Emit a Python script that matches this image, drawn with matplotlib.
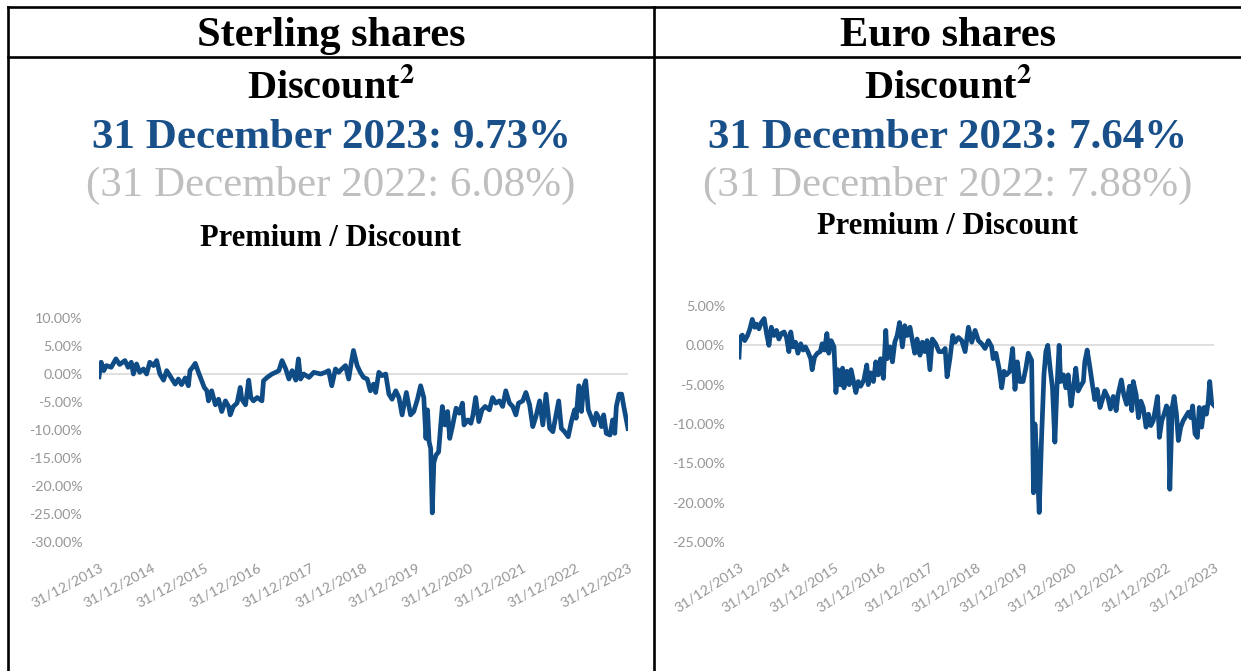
import matplotlib.pyplot as plt
from matplotlib.lines import Line2D
from matplotlib.ticker import FuncFormatter

# premium / discount (%)
sterling_years = [
    2014.00, 2014.04, 2014.09, 2014.14, 2014.23, 2014.32, 2014.39, 2014.49, 2014.55, 2014.61,
    2014.65, 2014.71, 2014.77, 2014.84, 2014.90, 2014.96, 2015.03, 2015.09, 2015.15, 2015.22,
    2015.28, 2015.34, 2015.44, 2015.50, 2015.56, 2015.63, 2015.69, 2015.72, 2015.77, 2015.82,
    2015.88, 2015.94, 2015.99, 2016.04, 2016.07, 2016.13, 2016.20, 2016.26, 2016.32, 2016.39,
    2016.45, 2016.48, 2016.54, 2016.61, 2016.67, 2016.70, 2016.77, 2016.83, 2016.87, 2016.92,
    2016.99, 2017.08, 2017.11, 2017.18, 2017.27, 2017.34, 2017.40, 2017.46, 2017.53, 2017.59,
    2017.65, 2017.72, 2017.77, 2017.81, 2017.87, 2017.97, 2018.06, 2018.19, 2018.28, 2018.34,
    2018.40, 2018.47, 2018.53, 2018.59, 2018.66, 2018.72, 2018.77, 2018.81, 2018.88, 2018.94,
    2019.00, 2019.07, 2019.13, 2019.19, 2019.23, 2019.29, 2019.35, 2019.42, 2019.48, 2019.54,
    2019.61, 2019.67, 2019.73, 2019.81, 2019.89, 2019.95, 2020.02, 2020.08, 2020.14, 2020.18,
    2020.21, 2020.24, 2020.27, 2020.30, 2020.33, 2020.37, 2020.42, 2020.46, 2020.49, 2020.54,
    2020.59, 2020.63, 2020.68, 2020.75, 2020.81, 2020.87, 2020.90, 2020.97, 2021.03, 2021.07,
    2021.12, 2021.18, 2021.24, 2021.30, 2021.38, 2021.44, 2021.50, 2021.57, 2021.63, 2021.69,
    2021.76, 2021.82, 2021.88, 2021.93, 2022.01, 2022.07, 2022.14, 2022.20, 2022.26, 2022.33,
    2022.39, 2022.45, 2022.52, 2022.58, 2022.64, 2022.69, 2022.74, 2022.80, 2022.87, 2022.93,
    2022.99, 2023.02, 2023.07, 2023.12, 2023.16, 2023.20, 2023.25, 2023.31, 2023.36, 2023.40,
    2023.47, 2023.50, 2023.54, 2023.59, 2023.66, 2023.71, 2023.75, 2023.78, 2023.83, 2023.88,
    2023.92, 2024.00,
]
sterling_discount = [
    -0.5, 2.1, 0.6, 1.5, 1.2, 2.7, 1.7, 2.4, 1.2, 2.1,
    0.0, 1.8, 0.3, 0.9, 0.0, 2.1, 1.5, 2.4, 0.0, -1.1,
    0.6, -0.3, -1.8, -0.9, -1.9, -0.7, -2.1, 0.6, 1.2, 1.9,
    0.3, -1.2, -2.4, -3.0, -4.8, -3.0, -5.5, -4.5, -6.7, -4.8,
    -5.8, -7.3, -5.8, -5.2, -2.4, -4.5, -5.5, -1.1, -4.2, -4.8,
    -4.2, -4.8, -1.2, -0.6, 0.0, 0.3, 0.6, 2.4, 0.9, -0.9,
    0.6, -1.1, 2.7, -0.9, 0.0, -0.6, 0.3, 0.0, 0.3, 0.6,
    -2.1, 0.9, 0.3, 0.9, 1.5, -0.9, 2.1, 4.2, 1.5, 0.3,
    -0.6, -0.9, -3.0, -1.8, -3.3, 0.3, -0.3, 0.0, -3.6, -4.5,
    -3.0, -4.2, -7.3, -3.3, -7.3, -6.7, -4.5, -2.1, -4.2, -11.5,
    -6.4, -12.1, -13.3, -24.8, -15.8, -14.5, -13.9, -9.1, -5.8, -9.1,
    -6.7, -11.5, -9.4, -6.1, -7.0, -5.2, -9.1, -8.2, -8.8, -7.3,
    -4.2, -8.5, -6.4, -5.8, -6.4, -4.2, -5.2, -4.8, -5.8, -3.0,
    -5.2, -5.8, -7.3, -5.2, -4.8, -3.3, -5.5, -9.4, -7.6, -4.8,
    -9.1, -3.6, -9.7, -10.3, -7.3, -4.8, -9.7, -10.3, -11.2, -8.5,
    -6.4, -7.9, -2.1, -6.7, -2.4, -1.2, -6.4, -7.9, -9.1, -7.0,
    -8.2, -9.4, -7.3, -10.6, -10.9, -8.2, -10.6, -5.8, -3.6, -3.6,
    -5.8, -9.73,
]

euro_years = [
    2014.00, 2014.02, 2014.07, 2014.12, 2014.18, 2014.23, 2014.28, 2014.33, 2014.37, 2014.42,
    2014.47, 2014.53, 2014.58, 2014.63, 2014.68, 2014.74, 2014.79, 2014.84, 2014.89, 2014.95,
    2015.00, 2015.05, 2015.09, 2015.14, 2015.19, 2015.24, 2015.30, 2015.35, 2015.40, 2015.45,
    2015.51, 2015.54, 2015.59, 2015.65, 2015.71, 2015.75, 2015.80, 2015.85, 2015.89, 2015.94,
    2016.00, 2016.04, 2016.08, 2016.13, 2016.18, 2016.21, 2016.27, 2016.32, 2016.36, 2016.42,
    2016.46, 2016.51, 2016.56, 2016.63, 2016.69, 2016.72, 2016.77, 2016.83, 2016.88, 2016.93,
    2016.98, 2017.04, 2017.09, 2017.12, 2017.18, 2017.23, 2017.28, 2017.33, 2017.38, 2017.44,
    2017.49, 2017.54, 2017.60, 2017.65, 2017.70, 2017.75, 2017.81, 2017.86, 2017.91, 2017.96,
    2018.02, 2018.07, 2018.14, 2018.21, 2018.29, 2018.34, 2018.38, 2018.44, 2018.50, 2018.55,
    2018.62, 2018.69, 2018.76, 2018.83, 2018.90, 2018.97, 2019.04, 2019.11, 2019.18, 2019.25,
    2019.32, 2019.35, 2019.41, 2019.48, 2019.53, 2019.58, 2019.63, 2019.70, 2019.76, 2019.81,
    2019.86, 2019.91, 2019.98, 2020.04, 2020.09, 2020.16, 2020.20, 2020.23, 2020.28, 2020.32,
    2020.37, 2020.42, 2020.46, 2020.50, 2020.55, 2020.60, 2020.65, 2020.69, 2020.74, 2020.77,
    2020.83, 2020.88, 2020.93, 2020.99, 2021.04, 2021.09, 2021.14, 2021.19, 2021.25, 2021.28,
    2021.33, 2021.39, 2021.44, 2021.49, 2021.54, 2021.60, 2021.65, 2021.70, 2021.77, 2021.82,
    2021.88, 2021.94, 2021.98, 2022.05, 2022.10, 2022.16, 2022.22, 2022.27, 2022.30, 2022.36,
    2022.41, 2022.46, 2022.51, 2022.57, 2022.62, 2022.67, 2022.72, 2022.76, 2022.81, 2022.85,
    2022.90, 2022.95, 2023.00, 2023.04, 2023.07, 2023.12, 2023.16, 2023.21, 2023.25, 2023.30,
    2023.35, 2023.41, 2023.46, 2023.51, 2023.55, 2023.60, 2023.65, 2023.69, 2023.74, 2023.79,
    2023.84, 2023.88, 2023.91, 2023.95, 2024.00,
]
euro_discount = [
    -1.5, 1.0, 1.3, 0.6, 1.25, 2.1, 3.3, 2.3, 2.7, 2.1,
    2.9, 3.4, 1.5, 0.0, 2.3, 1.25, 1.9, 0.8, 1.5, 1.7,
    1.0, -0.8, 1.7, -0.2, 0.4, -1.0, 0.2, -0.6, -0.2, -0.8,
    -1.7, -3.1, -1.5, -1.0, -0.8, 0.2, -0.6, 1.5, -1.0, 0.6,
    -0.2, -6.0, -3.1, -5.0, -2.9, -5.4, -3.3, -5.0, -3.1, -4.8,
    -6.0, -4.6, -5.2, -4.4, -2.5, -5.0, -3.5, -4.6, -2.1, -3.75,
    -1.7, -4.2, 1.9, -1.7, -0.2, -2.1, 0.4, 1.25, 2.9, -0.2,
    2.5, 1.25, 2.3, 0.6, -1.0, 0.8, -1.25, 0.4, -0.8, 0.6,
    -3.1, 0.8, 0.2, -0.8, -0.8, -0.4, -4.0, -1.7, 1.25, 0.4,
    1.0, 0.6, -0.8, 2.3, 0.4, 1.9, 0.6, 0.2, -0.4, 0.6,
    -0.2, -1.7, -1.0, -3.1, -5.4, -3.3, -3.75, -3.3, -0.4, -5.6,
    -2.1, -4.6, -4.6, -2.9, -1.0, -1.9, -18.75, -10.0, -15.4, -21.25,
    -11.7, -3.75, -0.8, 0.0, -2.9, -5.4, -12.3, -5.8, 0.0, -4.6,
    -3.75, -5.4, -3.75, -7.7, -5.4, -2.9, -5.8, -5.2, -4.6, -2.1,
    -0.6, -2.9, -5.0, -6.9, -5.6, -7.9, -6.9, -5.8, -6.7, -8.1,
    -6.5, -8.3, -6.25, -4.4, -6.25, -7.5, -5.2, -8.3, -4.6, -6.25,
    -9.2, -7.1, -7.9, -10.4, -8.75, -10.2, -9.6, -8.3, -6.5, -11.7,
    -9.6, -8.75, -7.7, -8.1, -18.3, -7.9, -6.5, -8.75, -12.1, -10.4,
    -9.6, -9.0, -8.5, -9.2, -7.7, -11.25, -11.7, -7.9, -10.4, -7.9,
    -8.75, -7.1, -4.6, -7.3, -7.64,
]

tick_years = [2014, 2015, 2016, 2017, 2018, 2019, 2020, 2021, 2022, 2023, 2024]
tick_labels = ['31/12/2013', '31/12/2014', '31/12/2015', '31/12/2016', '31/12/2017',
               '31/12/2018', '31/12/2019', '31/12/2020', '31/12/2021', '31/12/2022',
               '31/12/2023']

BLUE = '#0f4c85'
TITLE_BLUE = '#1a5089'
LIGHT = '#bfbfbf'
TICK = '#969696'
W, H = 1241, 671


def fx(px):
    return px / W


def fy(py):
    return 1 - py / H


fig = plt.figure(figsize=(W / 100, H / 100), dpi=100)
plt.rcParams['mathtext.fontset'] = 'stix'

# table borders
for (x0, y0, x1, y1) in [(8, 7, W, 7), (8, 56.5, W, 56.5), (8, 7, 8, H), (654, 7, 654, H)]:
    fig.add_artist(Line2D([fx(x0), fx(x1)], [fy(y0), fy(y1)], color='black', lw=1.9))

serif = 'Liberation Serif'
panels = [
    dict(cx=331, head='Sterling shares', now='31 December 2023: 9.73%',
         prev='(31 December 2022: 6.08%)', sub_y=246,
         years=sterling_years, vals=sterling_discount,
         box=(99, 318, 628, 542), ylim=(-30, 10), rot=28, pad=12),
    dict(cx=948, head='Euro shares', now='31 December 2023: 7.64%',
         prev='(31 December 2022: 7.88%)', sub_y=234,
         years=euro_years, vals=euro_discount,
         box=(739, 306, 1214, 542), ylim=(-25, 5), rot=33, pad=10),
]

for p in panels:
    cx = fx(p['cx'])
    fig.text(cx, fy(46), p['head'], ha='center', va='baseline', family=serif,
             weight='bold', fontsize=30.5)
    fig.text(cx, fy(98), r'Discount$^{\mathbf{2}}$', ha='center', va='baseline',
             family=serif, weight='bold', fontsize=29)
    fig.text(cx, fy(148), p['now'], ha='center', va='baseline', family=serif,
             weight='bold', fontsize=31, color=TITLE_BLUE)
    fig.text(cx, fy(196), p['prev'], ha='center', va='baseline', family=serif,
             fontsize=31, color=LIGHT)
    fig.text(cx, fy(p['sub_y']), 'Premium / Discount', ha='center', va='baseline',
             family=serif, weight='bold', fontsize=22)

    x0, y0, x1, y1 = p['box']
    ax = fig.add_axes([fx(x0), fy(y1), fx(x1 - x0), (y1 - y0) / H])
    ax.plot(p['years'], p['vals'], color=BLUE, lw=3.4, solid_joinstyle='round')
    ax.axhline(0, color='#d9d9d9', lw=1.2, zorder=0)
    ax.set_xlim(2014, 2024)
    ax.set_ylim(*p['ylim'])
    ax.set_yticks(range(p['ylim'][0], p['ylim'][1] + 1, 5))
    ax.yaxis.set_major_formatter(FuncFormatter(lambda v, _: f'{v:.2f}%'))
    ax.set_xticks(tick_years)
    ax.set_xticklabels(tick_labels, rotation=p['rot'], ha='right', rotation_mode='anchor')
    for s in ax.spines.values():
        s.set_visible(False)
    ax.tick_params(axis='both', length=0, colors=TICK, labelsize=10.3)
    ax.tick_params(axis='y', pad=p['pad'])
    ax.tick_params(axis='x', pad=14)
    for lab in ax.get_xticklabels() + ax.get_yticklabels():
        lab.set_family('Lato')
    ax.patch.set_alpha(0)

fig.savefig('out.png', dpi=100)
